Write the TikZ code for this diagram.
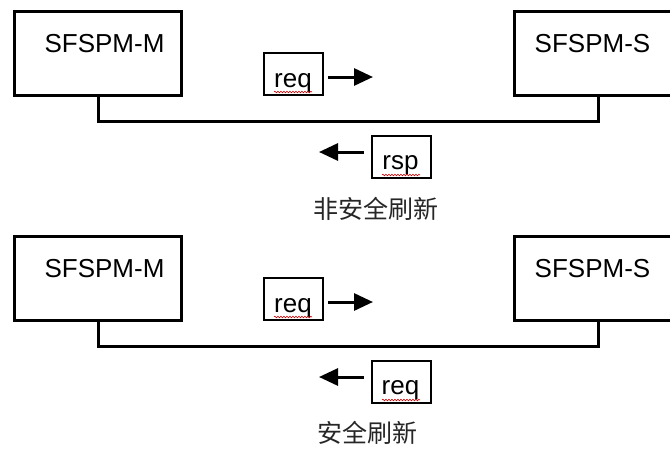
\documentclass[tikz,border=0pt]{standalone}
\usepackage{fontspec}
\setmainfont{Liberation Sans}
\newfontfamily\cjk{Noto Sans CJK SC}
\usetikzlibrary{arrows.meta,decorations.pathmorphing}
\begin{document}
\begin{tikzpicture}[x=1pt,y=-1pt,
  bigbox/.style={draw, line width=3pt, minimum width=167pt, minimum height=84pt, anchor=north west, inner sep=0pt},
  smallbox/.style={draw, line width=1.6pt, minimum width=59pt, minimum height=42pt, anchor=north west, inner sep=0pt},
  wire/.style={line width=3pt},
  msgarrow/.style={line width=3pt, -{Triangle[length=19pt,width=17pt]}},
  lbl/.style={font=\fontsize{26}{30}\selectfont, anchor=base, inner sep=0pt},
  captext/.style={font=\cjk\fontsize{25}{30}\selectfont, text=black!85, inner sep=0pt},
  squiggle/.style={red!80!black, line width=0.6pt, decorate, decoration={snake, amplitude=0.8pt, segment length=3pt}}
]
\useasboundingbox (0,0) rectangle (670,448);
\clip (0,0) rectangle (670,448);
\foreach \off/\resp/\capt/\cx/\cy in {0/rsp/非安全刷新/376/209, 225/req/安全刷新/367/208}{
  \begin{scope}[yshift=-\off pt]
    \node[bigbox] (m) at (13,10) {};
    \node[bigbox, minimum width=168pt] (s) at (513,10) {};
    \node[lbl] (mt) at (104.5,52) {SFSPM-M};
    \node[lbl] (st) at (592.5,52) {SFSPM-S};
    \draw[wire] (m.south) -- ++(0,24.5) -| (s.south);
    \node[smallbox] (q) at (263,52) {};
    \node[lbl] (qt) at (293,87) {req};
    \coordinate (qa1) at (328,77);
    \coordinate (qa2) at (373,77);
    \draw[msgarrow] (qa1) -- (qa2);
    \node[smallbox] (r) at (371,135) {};
    \node[lbl] (rt) at (400.5,169) {\resp};
    \coordinate (ra1) at (364,152);
    \coordinate (ra2) at (319,152);
    \draw[msgarrow] (ra1) -- (ra2);
    \coordinate (w1a) at (274,92); \coordinate (w1b) at (312,92);
    \draw[squiggle] (w1a) -- (w1b);
    \coordinate (w2a) at (382,175); \coordinate (w2b) at (420,175);
    \draw[squiggle] (w2a) -- (w2b);
    \node[captext] (c) at (\cx,\cy) {\capt};
  \end{scope}
}
\end{tikzpicture}
\end{document}
